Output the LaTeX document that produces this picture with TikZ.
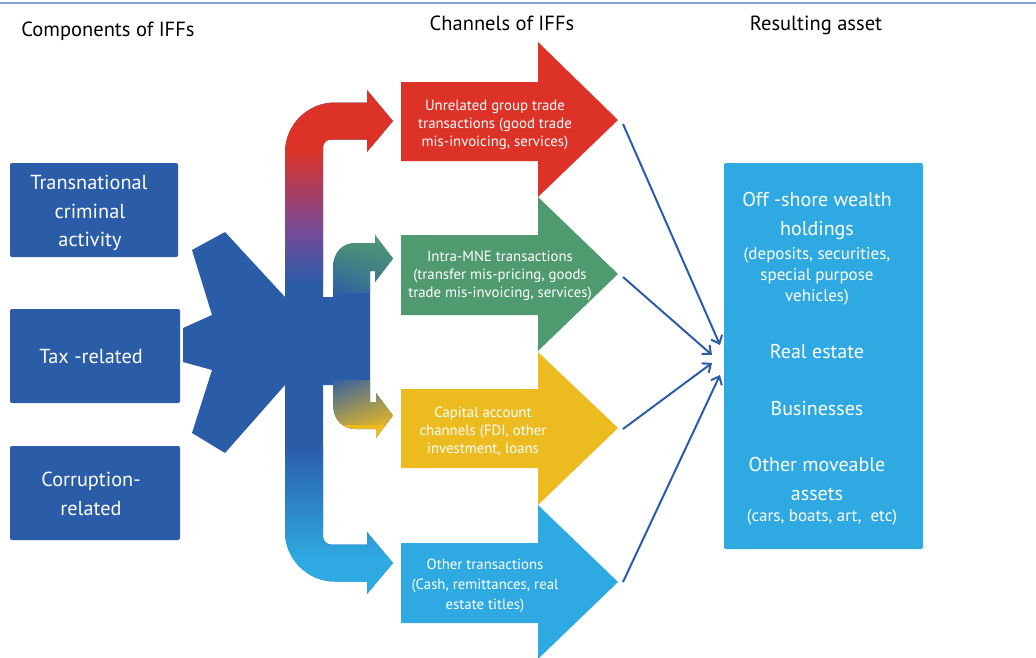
\documentclass[tikz,border=0pt]{standalone}
\usepackage{fontspec}
\setmainfont{PT Sans}
\usetikzlibrary{arrows.meta,shadings}
\definecolor{dblue}{RGB}{42,92,168}
\definecolor{lblue}{RGB}{46,169,225}
\definecolor{ared}{RGB}{220,50,39}
\definecolor{agreen}{RGB}{80,154,111}
\definecolor{ayellow}{RGB}{236,187,31}
\definecolor{apurple}{RGB}{122,74,150}
\definecolor{topline}{RGB}{130,160,210}
\newcommand\myMainBar{(323,300) -- (323,147.5) .. controls (323,143) and (326.5,139.5) .. (331,139.5) -- (367,139.5) -- (367,152) -- (393,121) -- (367,90) -- (367,102.5) -- (335,102.5) .. controls (307.4,102.5) and (285,124.9) .. (285,152.5) -- (285,531.5) .. controls (285,559.1) and (307.4,581.5) .. (335,581.5) -- (367,581.5) -- (367,594) -- (393,563) -- (367,532) -- (367,544.5) -- (331,544.5) .. controls (326.5,544.5) and (323,541) .. (323,536.5) -- cycle}
\newcommand\mySideBar{(333,268) .. controls (333,253.6) and (341.3,243) .. (356,243) -- (375,243) -- (375,235) -- (393,258.5) -- (375,282) -- (375,271) -- (370,271) -- (370,402) -- (376,402) -- (376,393) -- (393,415.5) -- (376,438) -- (376,429) -- (356,429) .. controls (341.3,429) and (333,418.4) .. (333,404) -- cycle}
\begin{document}
\begin{tikzpicture}[x=1pt,y=-1pt,
  title/.style={font=\fontsize{20.5}{22}\selectfont, text=black, inner sep=0, anchor=base},
  compbox/.style={fill=dblue, rounded corners=2pt, inner sep=0, minimum height=94pt},
  ctext/.style={font=\fontsize{20.3}{22}\selectfont, text=white, inner sep=0, anchor=base},
  chtext/.style={font=\fontsize{14.8}{18}\selectfont, text=white, align=center, inner sep=0},
  atext/.style={font=\fontsize{20}{22}\selectfont, text=white, inner sep=0, anchor=base},
  asmall/.style={font=\fontsize{17}{19}\selectfont, text=white, inner sep=0, anchor=base},
  conn/.style={draw=dblue, line width=2pt, -{Straight Barb[length=7pt,width=12pt]}}]
\useasboundingbox (0,0) rectangle (1036,657);
\draw[topline, line width=2pt] (0,3) -- (1036,3);
% titles
\node[title] (t1) at (108,36) {Components of IFFs};
\node[title] (t2) at (502,30) {Channels of IFFs};
\node[title] (t3) at (816,30) {Resulting asset};
% component boxes
\node[compbox, minimum width=168pt] (c1) at (94,210) {};
\node[compbox, minimum width=170pt] (c2) at (95,356) {};
\node[compbox, minimum width=170pt] (c3) at (95,493) {};
\node[ctext] (c1a) at (89,189.3) {Transnational};
\node[ctext] (c1b) at (90,218.3) {criminal};
\node[ctext] (c1c) at (90,246.7) {activity};
\node[ctext] (c2a) at (91,363.3) {Tax -related};
\node[ctext] (c3a) at (91,486.7) {Corruption-};
\node[ctext] (c3b) at (91,515) {related};
% star core
\fill[dblue] (192,250) -- (225,232) -- (285,297) -- (333,297) -- (333,385) -- (285,385) -- (225,453) -- (192,433) -- (212,370) -- (183,362) -- (183,328) -- (212,315) -- cycle;
% main bar with colour gradient
\begin{scope}
  \clip \myMainBar;
  \fill[dblue] (280,85) rectangle (400,600);
  \fill[ared] (280,85) rectangle (400,150);
  \shade[top color=ared, bottom color=apurple] (280,150) rectangle (400,228);
  \shade[top color=apurple, bottom color=dblue] (280,228) rectangle (400,285);
  \shade[top color=dblue, bottom color=lblue] (280,445) rectangle (400,558);
  \fill[lblue] (280,558) rectangle (400,600);
\end{scope}
% side bar (green and yellow branches)
\begin{scope}
  \clip \mySideBar;
  \fill[dblue] (325,230) rectangle (400,445);
  \shade[upper left=agreen, upper right=agreen, lower left=dblue, lower right=agreen!55!dblue] (325,233) rectangle (400,292);
  \shade[upper left=dblue, upper right=ayellow!45!dblue, lower left=ayellow!65!dblue, lower right=ayellow] (325,380) rectangle (400,425);
  \fill[ayellow] (325,425) rectangle (400,445);
\end{scope}
% channel arrows
\fill[ared] (401,82) -- (538,82) -- (538,42) -- (618,120) -- (538,197) -- (538,161) -- (401,161) -- cycle;
\fill[agreen] (401,235) -- (538,235) -- (538,197) -- (618,274) -- (538,351) -- (538,315) -- (401,315) -- cycle;
\fill[ayellow] (401,389) -- (538,389) -- (538,352) -- (618,428) -- (538,505) -- (538,468) -- (401,468) -- cycle;
\fill[lblue] (401,543) -- (538,543) -- (538,505) -- (618,582) -- (538,659) -- (538,623) -- (401,623) -- cycle;
\node[chtext] (ch1) at (495,125) {Unrelated group trade\\transactions (good trade\\mis-invoicing, services)};
\node[chtext] (ch2) at (500,276) {Intra-MNE transactions\\(transfer mis-pricing, goods\\trade mis-invoicing, services)};
\node[chtext] (ch3) at (483,431) {Capital account\\channels (FDI, other\\investment, loans};
\node[chtext, font=\fontsize{14.8}{20}\selectfont] (ch4) at (485,586) {Other transactions\\(Cash, remittances, real\\estate titles)};
% asset box
\node[fill=lblue, rounded corners=2pt, minimum width=199pt, minimum height=386pt, inner sep=0] (asset) at (823.5,356) {};
\node[atext] (a1) at (817,206.7) {Off -shore wealth};
\node[atext] (a2) at (817,235) {holdings};
\node[asmall] (a3) at (817,259) {(deposits, securities,};
\node[asmall] (a4) at (817,280.7) {special purpose};
\node[asmall] (a5) at (817,301.7) {vehicles)};
\node[atext] (a6) at (817,358.3) {Real estate};
\node[atext] (a7) at (817,415) {Businesses};
\node[atext] (a8) at (817,471.7) {Other moveable};
\node[atext] (a9) at (817,500) {assets};
\node[asmall] (a10) at (822,521.7) {(cars, boats, art,\ \ etc)};
% connectors
\coordinate (p1) at (623,124);
\coordinate (p2) at (623,277);
\coordinate (p3) at (623,429);
\coordinate (p4) at (623,582);
\coordinate (q1) at (720,345);
\coordinate (q2) at (712,355);
\coordinate (q3) at (712,363);
\coordinate (q4) at (720,375);
\draw[conn] (p1) -- (q1);
\draw[conn] (p2) -- (q2);
\draw[conn] (p3) -- (q3);
\draw[conn] (p4) -- (q4);
\end{tikzpicture}
\end{document}
